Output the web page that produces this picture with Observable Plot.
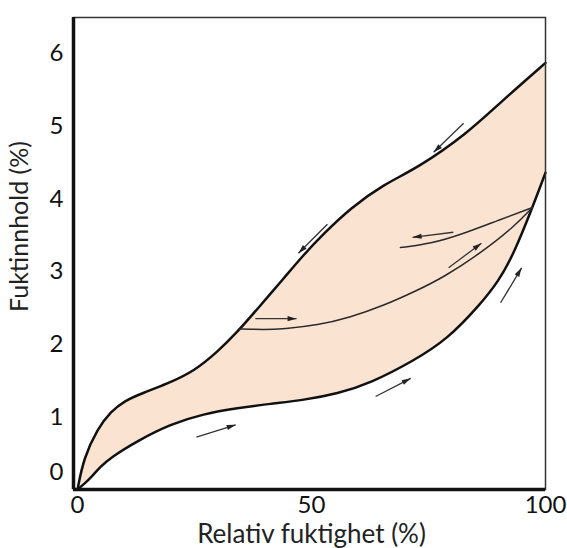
<!DOCTYPE html>
<html><head><meta charset="utf-8">
<script src="https://cdn.jsdelivr.net/npm/d3@7"></script>
<script src="https://cdn.jsdelivr.net/npm/@observablehq/plot@0.6"></script>
<style>
html,body{margin:0;padding:0;background:#fff;}
#chart svg{display:block;}
</style></head><body><div id="chart"></div>
<script>
// Desorption (upper) boundary curve: relative humidity (%) -> moisture content (%)
const desorptionX = [0, 1.3, 4.3, 7.1, 10, 14, 19, 25, 30, 34.2, 38.5, 44, 48.3, 52.6, 58.3, 65.4, 72.6, 83.3, 90.4, 100];
const desorptionY = [0, 0.43, 0.84, 1.07, 1.22, 1.33, 1.45, 1.63, 1.90, 2.17, 2.49, 2.90, 3.23, 3.52, 3.87, 4.20, 4.42, 4.90, 5.33, 5.87];
// Adsorption (lower) boundary curve
const adsorptionX = [0, 1.5, 2.8, 5, 7.1, 12.8, 19.9, 26.9, 34.2, 41.2, 48.3, 55.6, 62.5, 71.8, 79.1, 86.1, 90, 93.2, 97.2, 100];
const adsorptionY = [0, 0.08, 0.16, 0.32, 0.44, 0.67, 0.90, 1.04, 1.12, 1.18, 1.23, 1.32, 1.46, 1.77, 2.07, 2.55, 2.87, 3.24, 3.88, 4.36];
// Scanning curve, adsorption from the desorption curve up to ~97 %
const scanUpX = [34.4, 40, 44, 51.3, 58.3, 65.4, 72.6, 78.2, 86.1, 93.2, 97.2];
const scanUpY = [2.21, 2.20, 2.21, 2.26, 2.37, 2.53, 2.74, 2.92, 3.25, 3.61, 3.88];
// Scanning curve, desorption back from ~97 %
const scanDownX = [97.2, 89.7, 82.5, 75.4, 69.0];
const scanDownY = [3.88, 3.70, 3.52, 3.38, 3.33];
// Direction arrows (start -> end)
const arrowX1 = [82.5, 53.4, 38.0, 80.3, 79.3, 90.4, 63.7, 25.4];
const arrowY1 = [5.04, 3.65, 2.35, 3.54, 3.05, 2.57, 1.28, 0.72];
const arrowX2 = [76.1, 47.2, 46.8, 71.6, 86.3, 94.9, 71.2, 33.8];
const arrowY2 = [4.64, 3.25, 2.35, 3.47, 3.39, 3.05, 1.53, 0.89];
// Ticks and labels
const xTicks = [0, 50, 100];
const yTicks = [1, 2, 3, 4, 5, 6];
const yZeroTick = [0];
const xLabel = "Relativ fuktighet (%)";
const yLabel = "Fuktinnhold (%)";

const pts = (xs, ys) => xs.map((x, i) => ({x, y: ys[i]}));
const band = desorptionX.map((x, i) => ({ux: x, uy: desorptionY[i], lx: adsorptionX[i], ly: adsorptionY[i]}));

const font = "Lato, 'Open Sans', sans-serif";
const layout = {
  width: 567,
  height: 548,
  marginLeft: 73,
  marginRight: 22,
  marginTop: 17,
  marginBottom: 59,
  x: {domain: [-0.86, 100]},
  y: {domain: [0, 6.495]}
};
// probe plot to read the scales, so arrowheads can be oriented in screen space
const probe = Plot.plot({...layout, marks: [Plot.frame()]});
const sx = probe.scale("x").apply, sy = probe.scale("y").apply;
const arrows = arrowX1.map((x, i) => {
  const dxp = sx(arrowX2[i]) - sx(x), dyp = sy(arrowY2[i]) - sy(arrowY1[i]);
  return {x1: x, y1: arrowY1[i], x2: arrowX2[i], y2: arrowY2[i], angle: Math.atan2(dxp, -dyp) * 180 / Math.PI};
});

const curve = "basis";
const chart = Plot.plot({
  ...layout,
  style: {fontFamily: font, background: "#fff", color: "#111"},
  marks: [
    Plot.area(band, {x1: "ux", y1: "uy", x2: "lx", y2: "ly", curve, fill: "#fbe3d2"}),
    Plot.line(pts(desorptionX, desorptionY), {x: "x", y: "y", curve, stroke: "#111", strokeWidth: 2.5}),
    Plot.line(pts(adsorptionX, adsorptionY), {x: "x", y: "y", curve, stroke: "#111", strokeWidth: 2.5}),
    Plot.line(pts(scanUpX, scanUpY), {x: "x", y: "y", curve, stroke: "#2a2a2a", strokeWidth: 1.5}),
    Plot.line(pts(scanDownX, scanDownY), {x: "x", y: "y", curve, stroke: "#2a2a2a", strokeWidth: 1.5}),
    Plot.link(arrows, {x1: "x1", y1: "y1", x2: "x2", y2: "y2", stroke: "#333", strokeWidth: 1.3}),
    Plot.vector(arrows, {x: "x2", y: "y2", rotate: "angle", anchor: "end", shape: "spike", length: 9, r: 2.6, fill: "#222", stroke: "none"}),
    Plot.frame({stroke: "#333", strokeWidth: 1.5}),
    Plot.ruleX([-0.86], {stroke: "#111", strokeWidth: 3.5}),
    Plot.ruleY([0], {stroke: "#111", strokeWidth: 3.5}),
    Plot.axisX(xTicks, {tickSize: 0, tickPadding: 6, fontSize: 24, label: null, fill: "#111", tickFormat: "d"}),
    Plot.axisY(yTicks, {tickSize: 0, tickPadding: 10, fontSize: 24, label: null, fill: "#111", tickFormat: "d"}),
    Plot.text(yZeroTick, {y: d => d, frameAnchor: "left", text: d => String(d), textAnchor: "end", dx: -10, dy: -17, fontSize: 24, fill: "#111"}),
    Plot.text([xLabel], {frameAnchor: "bottom", text: d => d, textAnchor: "middle", lineAnchor: "middle", dx: 2, dy: 45, fontSize: 26, fill: "#222"}),
    Plot.text([yLabel], {frameAnchor: "left", text: d => d, rotate: -90, textAnchor: "middle", lineAnchor: "middle", dx: -54, dy: -27, fontSize: 25, fill: "#222"})
  ]
});
document.getElementById("chart").appendChild(chart);
</script></body></html>
